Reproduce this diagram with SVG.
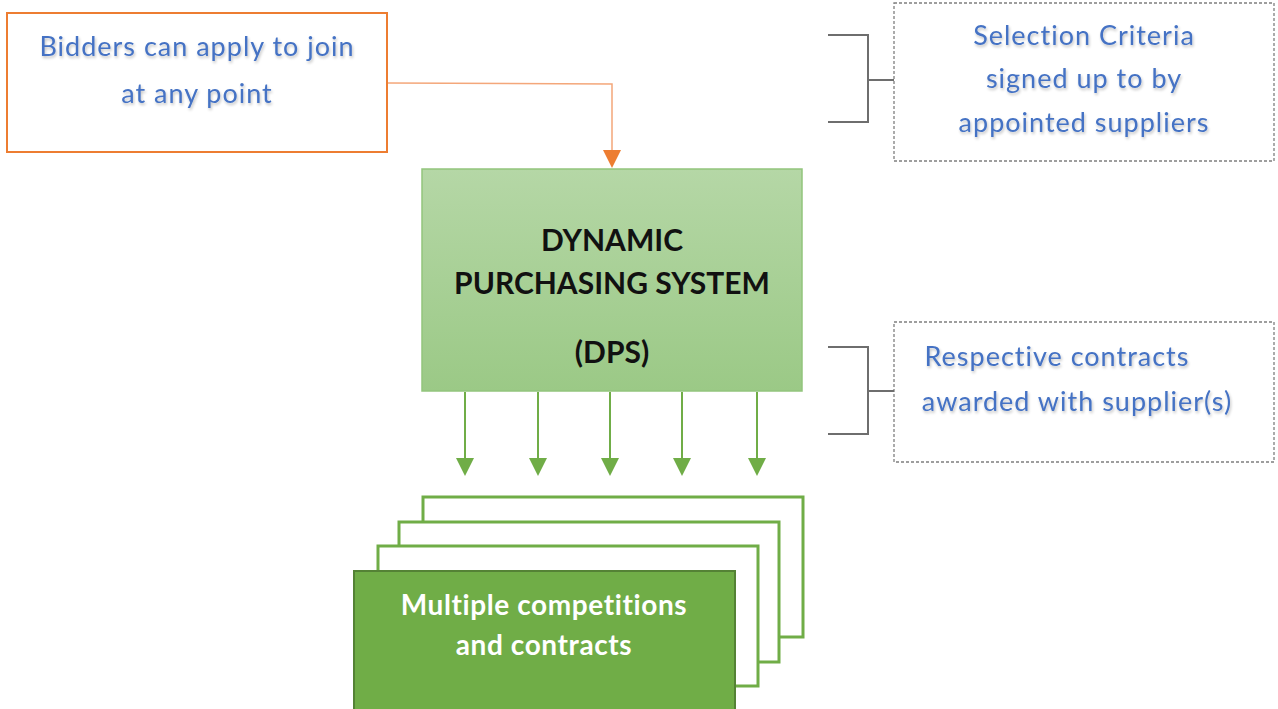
<svg xmlns="http://www.w3.org/2000/svg" width="1278" height="709" viewBox="0 0 1278 709">
  <defs>
    <linearGradient id="dpsFill" x1="0" y1="0" x2="0" y2="1">
      <stop offset="0" stop-color="#b5d7a6"/>
      <stop offset="1" stop-color="#9bc986"/>
    </linearGradient>
    <filter id="soft" x="-5%" y="-20%" width="110%" height="140%">
      <feGaussianBlur in="SourceAlpha" stdDeviation="1.5"/>
      <feOffset dx="1" dy="2" result="b"/>
      <feComponentTransfer><feFuncA type="linear" slope="0.25"/></feComponentTransfer>
      <feMerge><feMergeNode/><feMergeNode in="SourceGraphic"/></feMerge>
    </filter>
  </defs>
  <style>
    .blue { font-family: Lato, "Liberation Sans", sans-serif; font-size: 27px; letter-spacing: 1px; fill: #4472c4; text-anchor: middle; }
    .dash { fill: #ffffff; stroke: #7f7f7f; stroke-width: 1.3; stroke-dasharray: 3 2; }
    .brace { fill: none; stroke: #6e6e6e; stroke-width: 2; }
    .card { fill: #ffffff; stroke: #70ad47; stroke-width: 3; }
    .gline { fill: none; stroke: #70ad47; stroke-width: 2; }
    .title { font-family: Lato, "Liberation Sans", sans-serif; font-weight: bold; font-size: 30px; fill: #111111; text-anchor: middle; }
    .white { font-family: Lato, "Liberation Sans", sans-serif; font-weight: bold; font-size: 28px; letter-spacing: 0.6px; fill: #ffffff; text-anchor: middle; }
  </style>
  <rect width="1278" height="709" fill="#ffffff"/>

  <g id="bidders">
    <rect x="7" y="13" width="380" height="139" fill="#ffffff" stroke="#ed7d31" stroke-width="2"/>
    <text class="blue" filter="url(#soft)" x="197" y="56">Bidders can apply to join</text>
    <text class="blue" filter="url(#soft)" x="197" y="103">at any point</text>
  </g>

  <g id="selection-criteria">
    <rect class="dash" x="894" y="3" width="380" height="158"/>
    <text class="blue" filter="url(#soft)" x="1084" y="45">Selection Criteria</text>
    <text class="blue" filter="url(#soft)" x="1084" y="88">signed up to by</text>
    <text class="blue" filter="url(#soft)" x="1084" y="132">appointed suppliers</text>
  </g>

  <g id="respective-contracts">
    <rect class="dash" x="894" y="322" width="380" height="140"/>
    <text class="blue" filter="url(#soft)" x="1057" y="366">Respective contracts</text>
    <text class="blue" filter="url(#soft)" x="1077" y="411">awarded with supplier(s)</text>
  </g>

  <g id="dps">
    <rect x="422" y="169" width="380" height="222" fill="url(#dpsFill)" stroke="#92c57c" stroke-width="1.5"/>
    <text class="title" x="612" y="251">DYNAMIC</text>
    <text class="title" x="612" y="294">PURCHASING SYSTEM</text>
    <text class="title" x="612" y="363">(DPS)</text>
  </g>

  <g id="competitions">
    <rect class="card" x="423" y="497" width="380" height="140"/>
    <rect class="card" x="399" y="522" width="380" height="140"/>
    <rect class="card" x="378" y="546" width="380" height="140"/>
    <rect x="354" y="571" width="381" height="145" fill="#70ad47" stroke="#548235" stroke-width="2"/>
    <text class="white" x="544" y="615">Multiple competitions</text>
    <text class="white" x="544" y="655">and contracts</text>
  </g>

  <g id="connectors">
    <polyline points="388,83 612,84 612,150" fill="none" stroke="#f4a77a" stroke-width="1.5"/>
    <path d="M603,150 L621,150 L612,168 z" fill="#ed7d31"/>

    <g class="gline">
      <line x1="465" y1="392" x2="465" y2="458"/>
      <line x1="538" y1="392" x2="538" y2="458"/>
      <line x1="610" y1="392" x2="610" y2="458"/>
      <line x1="682" y1="392" x2="682" y2="458"/>
      <line x1="757" y1="392" x2="757" y2="458"/>
    </g>
    <g fill="#70ad47">
      <path d="M456,458 L474,458 L465,476 z"/>
      <path d="M529,458 L547,458 L538,476 z"/>
      <path d="M601,458 L619,458 L610,476 z"/>
      <path d="M673,458 L691,458 L682,476 z"/>
      <path d="M748,458 L766,458 L757,476 z"/>
    </g>

    <path class="brace" d="M828,35 H868 V122 H828 M868,80 H894"/>
    <path class="brace" d="M828,347 H868 V434 H828 M868,391 H894"/>
  </g>
</svg>
